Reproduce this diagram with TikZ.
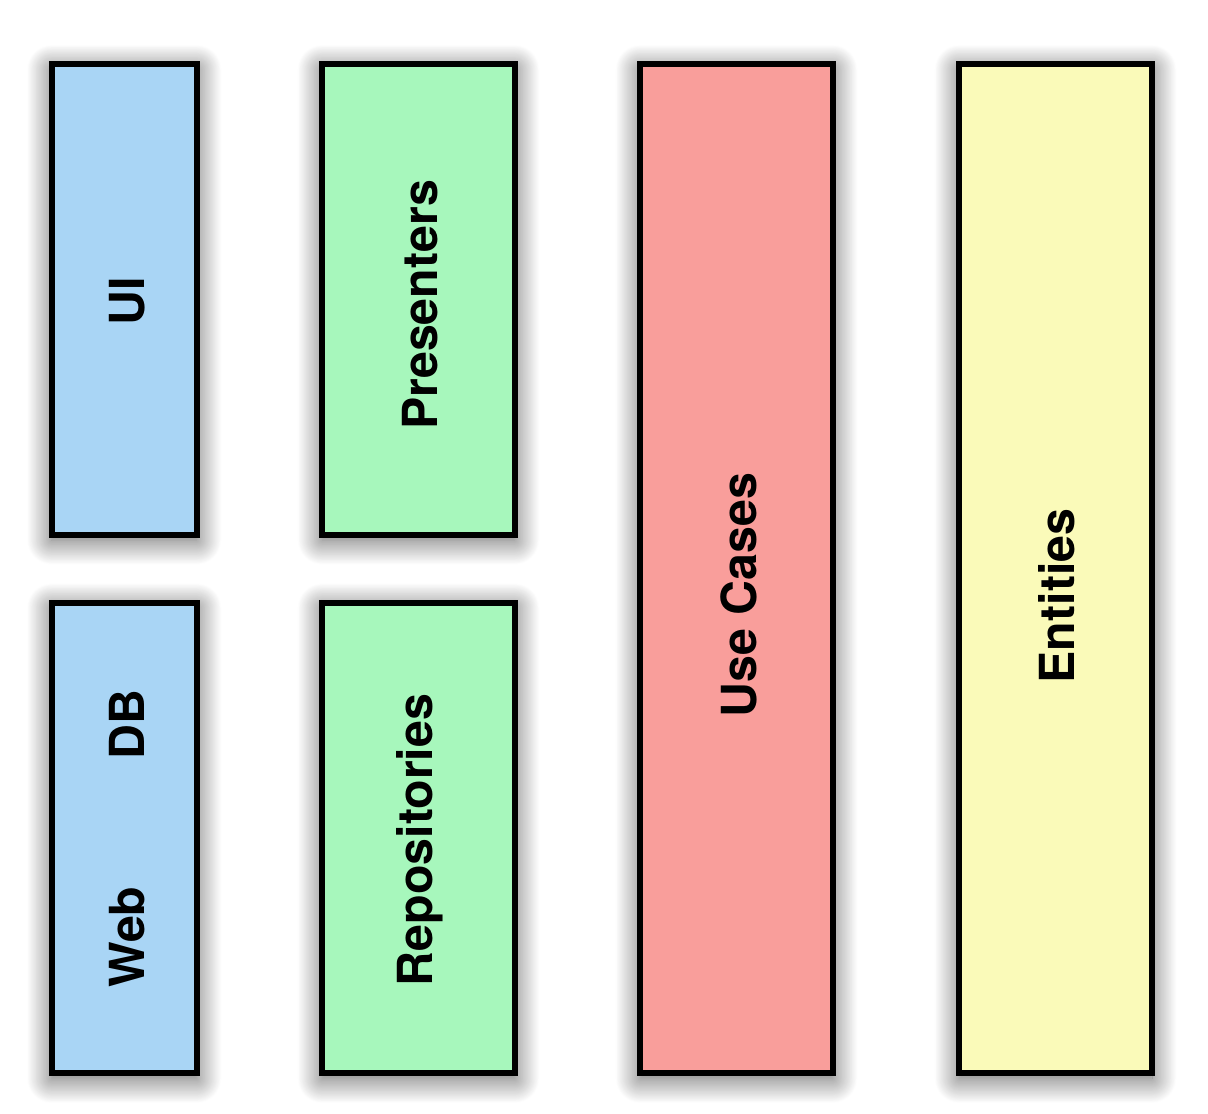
\documentclass[tikz,border=0pt]{standalone}
\usepackage{fontspec}
\setsansfont{TeX Gyre Heros}
\usepackage{tikz}
\usetikzlibrary{shadows.blur}

\definecolor{uiblue}{RGB}{169,213,245}
\definecolor{adaptgreen}{RGB}{167,247,188}
\definecolor{caseRed}{RGB}{249,158,155}
\definecolor{entyellow}{RGB}{250,250,185}

\begin{document}
\begin{tikzpicture}[x=0.02cm, y=-0.02cm,
	every node/.style={font=\sffamily\bfseries\fontsize{27.5}{30}\selectfont},
	layer/.style={draw=black, line width=3.4pt, inner sep=0pt,
		blur shadow={shadow xshift=0pt, shadow yshift=-3pt, shadow blur radius=14pt,
			shadow blur steps=30, shadow opacity=65}},
	tag/.style={rotate=90, inner sep=0pt}]
	\useasboundingbox (0,0) rectangle (1208,1114);
	% outer column (frameworks)
	\node[layer, fill=uiblue, minimum width=2.91cm, minimum height=9.42cm] (ui) at (124.25,299.5) {};
	\node[layer, fill=uiblue, minimum width=2.91cm, minimum height=9.42cm] (webdb) at (124.25,838) {};
	% adapters
	\node[layer, fill=adaptgreen, minimum width=3.86cm, minimum height=9.42cm] (presenters) at (418.5,299.5) {};
	\node[layer, fill=adaptgreen, minimum width=3.86cm, minimum height=9.42cm] (repos) at (418.5,838) {};
	% use cases and entities
	\node[layer, fill=caseRed, minimum width=3.86cm, minimum height=20.19cm] (usecases) at (736.5,568.75) {};
	\node[layer, fill=entyellow, minimum width=3.86cm, minimum height=20.19cm] (entities) at (1055.5,568.75) {};
	% labels
	\node[tag] (uitxt) at (127,301) {UI};
	\node[tag] (dbtxt) at (127,725) {DB};
	\node[tag] (webtxt) at (127,937) {Web};
	\node[tag] (prestxt) at (420,305) {Presenters};
	\node[tag] (repotxt) at (420,840) {Repositories};
	\node[tag] (casetxt) at (739,595) {Use Cases};
	\node[tag] (enttxt) at (1057,596) {Entities};
\end{tikzpicture}
\end{document}
